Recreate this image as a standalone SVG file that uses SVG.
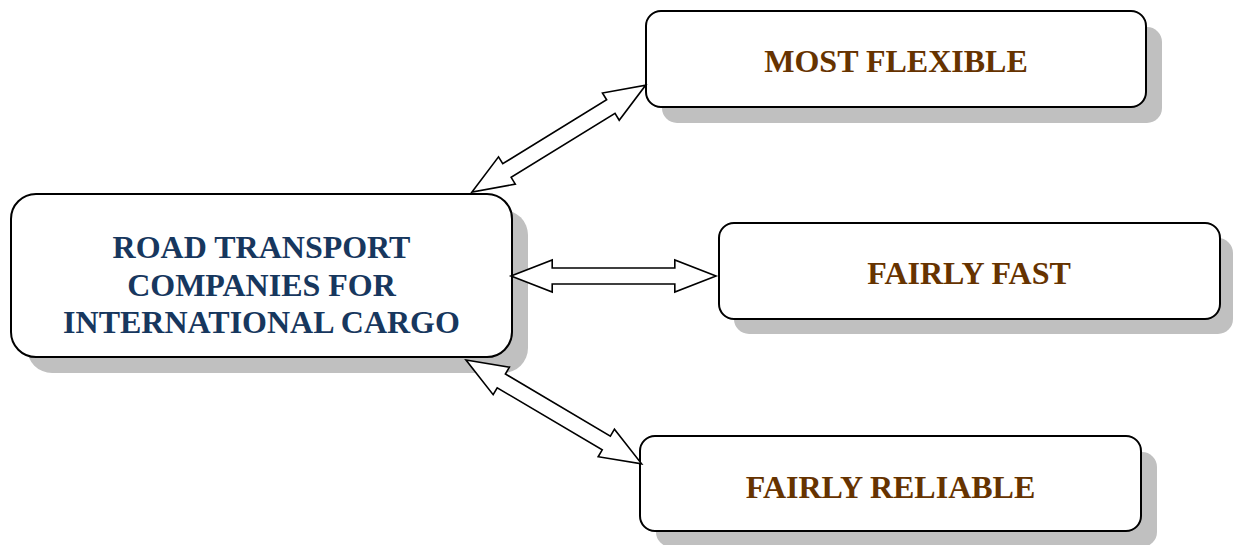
<svg xmlns="http://www.w3.org/2000/svg" width="1233" height="545" viewBox="0 0 1233 545">
<style>
.box{fill:#fff;stroke:#000;stroke-width:2}
.sh{fill:#c0c0c0}
.arr{fill:#fff;stroke:#000;stroke-width:1.6;stroke-linejoin:miter}
.t{font-family:"Liberation Serif","Times New Roman",serif;font-weight:bold;font-size:32px;text-anchor:middle}
.main{fill:#17375e}
.lbl{fill:#663300}
</style>
<defs>
<path id="dbl" d="M0,0 L41,-16 L41,-8 L163,-8 L163,-16 L204,0 L163,16 L163,8 L41,8 L41,16 Z"/>
</defs>
<rect width="1233" height="545" fill="#fff"/>
<g id="main">
<rect class="sh" x="27" y="210" width="501" height="163" rx="25"/>
<rect class="box" x="11" y="194" width="501" height="163" rx="25"/>
<text class="t main" x="261.5" y="258">ROAD TRANSPORT</text>
<text class="t main" x="261.5" y="296">COMPANIES FOR</text>
<text class="t main" x="261.5" y="333">INTERNATIONAL CARGO</text>
</g>
<g id="flexible">
<rect class="sh" x="662" y="27" width="500" height="96" rx="15"/>
<rect class="box" x="646" y="11" width="500" height="96" rx="15"/>
<text class="t lbl" x="896" y="72">MOST FLEXIBLE</text>
</g>
<g id="fast">
<rect class="sh" x="734" y="238" width="499" height="96" rx="15"/>
<rect class="box" x="719" y="223" width="501" height="96" rx="15"/>
<text class="t lbl" x="969" y="284">FAIRLY FAST</text>
</g>
<g id="reliable">
<rect class="sh" x="656" y="452" width="501" height="95" rx="15"/>
<rect class="box" x="640" y="436" width="501" height="95" rx="15"/>
<text class="t lbl" x="890.5" y="498">FAIRLY RELIABLE</text>
</g>
<g id="connectors">
<use href="#dbl" class="arr" transform="translate(472,192) rotate(-31.6)"/>
<use href="#dbl" class="arr" transform="translate(511,276) scale(1.005,1)"/>
<use href="#dbl" class="arr" transform="translate(466,360) rotate(30.6)"/>
</g>
</svg>
